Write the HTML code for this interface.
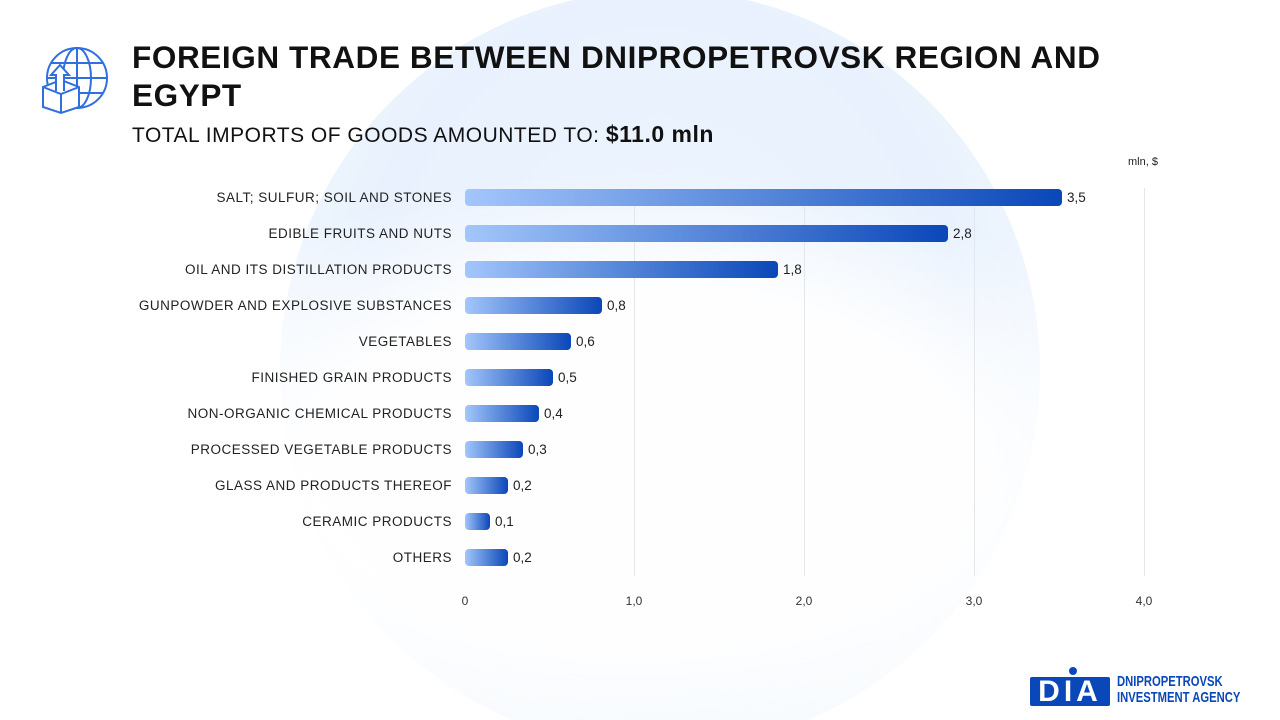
<!DOCTYPE html>
<html style="overflow:hidden;width:1280px;height:720px"><head><style>
body{margin:0;width:1280px;height:720px;overflow:hidden;background:#fff;font-family:"Liberation Sans",sans-serif;position:relative}
.bg{position:absolute;left:280px;top:-10px;width:760px;height:760px;border-radius:50%;background:radial-gradient(circle at 50% 40%,#eef5fe 0%,#e8f1fd 50%,#f3f8fe 70%,#fff 100%)}
.fade{position:absolute;left:0;top:140px;width:1280px;height:580px;background:radial-gradient(ellipse 560px 300px at 640px 330px,rgba(255,255,255,0.95) 60%,rgba(255,255,255,0) 100%)}
.t{position:absolute;left:132px;top:38px;font-size:31.5px;font-weight:bold;color:#111;line-height:38px;letter-spacing:0.6px}
.s{position:absolute;left:132px;top:121px;font-size:21px;color:#111;letter-spacing:0.5px}
.s b{font-size:23px}
.lab{position:absolute;right:828px;font-size:13.5px;color:#222;letter-spacing:0.5px;white-space:nowrap}
.bar{position:absolute;left:465px;height:17px;border-radius:4px;background:linear-gradient(90deg,#a3c6fb,#0a47b8)}
.v{position:absolute;font-size:13.5px;color:#222}
.g{position:absolute;top:188px;height:388px;width:1px;background:#e3e6ea}
.x{position:absolute;top:594px;font-size:12px;color:#333;transform:translateX(-50%)}
</style></head><body>
<div class="bg"></div><div class="fade"></div>
<svg style="position:absolute;left:40px;top:45px" width="70" height="70" viewBox="0 0 70 70" fill="none" stroke="#2f6fe0" stroke-width="2">
<circle cx="37" cy="33" r="30"/><ellipse cx="37" cy="33" rx="14" ry="30"/><line x1="7" y1="33" x2="67" y2="33"/><line x1="11" y1="18" x2="63" y2="18"/><line x1="11" y1="48" x2="63" y2="48"/><line x1="37" y1="3" x2="37" y2="63"/>
<path d="M3 42 L21 35 L39 42 L39 62 L21 68 L3 62 Z" fill="#fff"/><path d="M3 42 L21 49 L39 42 M21 49 L21 68"/>
<path d="M16 46 L16 30 L11 30 L20 20 L29 30 L24 30 L24 46" fill="#fff"/>
</svg>
<div class="t">FOREIGN TRADE BETWEEN DNIPROPETROVSK REGION AND<br>EGYPT</div>
<div class="s">TOTAL IMPORTS OF GOODS AMOUNTED TO: <b>$11.0 mln</b></div>
<div style="position:absolute;left:1128px;top:156px;font-size:11px;color:#222">mln, $</div>
<div class="g" style="left:634px"></div><div class="g" style="left:804px"></div><div class="g" style="left:974px"></div><div class="g" style="left:1144px"></div>
<div class="x" style="left:465px">0</div><div class="x" style="left:634px">1,0</div><div class="x" style="left:804px">2,0</div><div class="x" style="left:974px">3,0</div><div class="x" style="left:1144px">4,0</div>
<div class="lab" style="top:190px">SALT; SULFUR; SOIL AND STONES</div><div class="bar" style="top:189px;width:597px"></div><div class="v" style="left:1067px;top:190px">3,5</div>
<div class="lab" style="top:226px">EDIBLE FRUITS AND NUTS</div><div class="bar" style="top:225px;width:483px"></div><div class="v" style="left:953px;top:226px">2,8</div>
<div class="lab" style="top:262px">OIL AND ITS DISTILLATION PRODUCTS</div><div class="bar" style="top:261px;width:313px"></div><div class="v" style="left:783px;top:262px">1,8</div>
<div class="lab" style="top:298px">GUNPOWDER AND EXPLOSIVE SUBSTANCES</div><div class="bar" style="top:297px;width:137px"></div><div class="v" style="left:607px;top:298px">0,8</div>
<div class="lab" style="top:334px">VEGETABLES</div><div class="bar" style="top:333px;width:106px"></div><div class="v" style="left:576px;top:334px">0,6</div>
<div class="lab" style="top:370px">FINISHED GRAIN PRODUCTS</div><div class="bar" style="top:369px;width:88px"></div><div class="v" style="left:558px;top:370px">0,5</div>
<div class="lab" style="top:406px">NON-ORGANIC CHEMICAL PRODUCTS</div><div class="bar" style="top:405px;width:74px"></div><div class="v" style="left:544px;top:406px">0,4</div>
<div class="lab" style="top:442px">PROCESSED VEGETABLE PRODUCTS</div><div class="bar" style="top:441px;width:58px"></div><div class="v" style="left:528px;top:442px">0,3</div>
<div class="lab" style="top:478px">GLASS AND PRODUCTS THEREOF</div><div class="bar" style="top:477px;width:43px"></div><div class="v" style="left:513px;top:478px">0,2</div>
<div class="lab" style="top:514px">CERAMIC PRODUCTS</div><div class="bar" style="top:513px;width:25px"></div><div class="v" style="left:495px;top:514px">0,1</div>
<div class="lab" style="top:550px">OTHERS</div><div class="bar" style="top:549px;width:43px"></div><div class="v" style="left:513px;top:550px">0,2</div>
<div style="position:absolute;left:1030px;top:677px;width:80px;height:29px;background:#0a47b8;border-radius:2px;color:#fff;font-weight:bold;font-size:30px;line-height:29px;text-align:center;letter-spacing:4px">DIA</div>
<div style="position:absolute;left:1069px;top:667px;width:8px;height:8px;border-radius:50%;background:#0a47b8"></div>
<div style="position:absolute;left:1117px;top:674px;font-size:15px;line-height:16px;color:#0a47b8;font-weight:bold;white-space:nowrap;transform:scaleX(0.75);transform-origin:left">DNIPROPETROVSK<br>INVESTMENT AGENCY</div>
</body></html>
